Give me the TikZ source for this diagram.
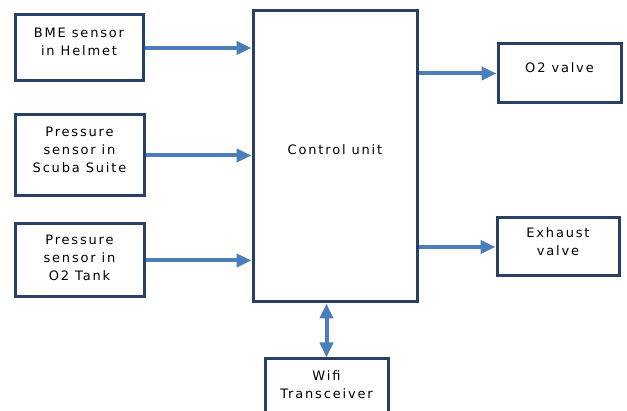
\documentclass[tikz,border=0pt]{standalone}
\usepackage{fontspec}
\setmainfont{DejaVu Sans}[LetterSpace=14]
\usetikzlibrary{arrows.meta,positioning}
\definecolor{boxedge}{RGB}{40,64,100}
\definecolor{flowcol}{RGB}{74,126,187}
\tikzset{
  unit/.style={draw=boxedge,line width=3pt,fill=white,inner sep=0pt},
  caption/.style={align=center,inner sep=0pt,font=\fontsize{13}{18}\selectfont},
  flow/.style={-{Triangle[length=15pt,width=13pt]},draw=flowcol,line width=4pt},
  duplex/.style={{Triangle[length=15pt,width=13pt]}-{Triangle[length=15pt,width=13pt]},
                 draw=flowcol,line width=4pt},
}

\begin{document}
\begin{tikzpicture}[x=1pt,y=-1pt]
  \useasboundingbox (0,0) rectangle (627,411);
  % sensors on the left
  \node[unit,minimum width=128pt,minimum height=66pt] (bme) at (79,48) {};
  \node[caption] (bmetxt) at (79,42) {BME sensor\\in Helmet};
  \node[unit,minimum width=129pt,minimum height=81pt] (scuba) at (79.5,155.5) {};
  \node[caption] (scubatxt) at (79.5,150) {Pressure\\sensor in\\Scuba Suite};
  \node[unit,minimum width=129pt,minimum height=73pt] (tank) at (79.5,260.5) {};
  \node[caption] (tanktxt) at (79.5,258) {Pressure\\sensor in\\O2 Tank};
  % controller
  \node[unit,minimum width=164pt,minimum height=291pt] (ctrl) at (335,156.5) {};
  \node[caption] (ctrltxt) at (335,150) {Control unit};
  % actuators and radio
  \node[unit,minimum width=123pt,minimum height=59pt] (o2v) at (559.5,73.5) {};
  \node[caption] (o2vtxt) at (559.5,68) {O2 valve};
  \node[unit,minimum width=122pt,minimum height=58pt] (exh) at (558,247) {};
  \node[caption] (exhtxt) at (558,242) {Exhaust\\valve};
  \node[unit,minimum width=123pt,minimum height=62pt] (wifi) at (326.5,390) {};
  \node[caption] (wifitxt) at (326.5,385) {Wifi\\Transceiver};
  % links
  \foreach \s in {bme,scuba,tank}
    \draw[flow] (\s.east) -- (\s.east -| ctrl.west);
  \foreach \t in {o2v,exh}
    \draw[flow] (\t.west -| ctrl.east) -- (\t.west);
  \draw[duplex] (wifi.north |- ctrl.south) -- (wifi.north);
\end{tikzpicture}
\end{document}
